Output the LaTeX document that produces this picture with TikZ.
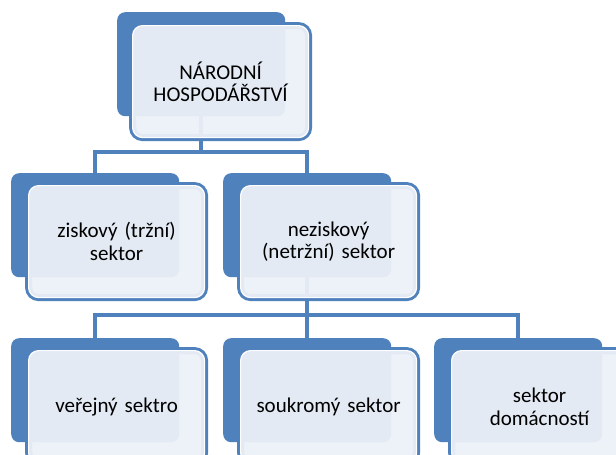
\documentclass[tikz,border=0pt]{standalone}
\usepackage{fontspec}
\setmainfont{Carlito}
\usetikzlibrary{backgrounds}

\definecolor{ramec}{RGB}{79,129,189}
\definecolor{vypln}{RGB}{236,240,248}

\begin{document}
\begin{tikzpicture}[
      x=1pt, y=-1pt,
      back/.style={anchor=north west, fill=ramec, rounded corners=8pt,
        minimum width=168pt, minimum height=104pt, inner sep=0pt},
      front/.style={anchor=north west, fill=vypln, fill opacity=0.95, text opacity=1,
        draw=white, line width=1.2pt, rounded corners=10pt,
        preaction={draw=ramec, line width=7pt},
        minimum width=176pt, minimum height=112pt, inner sep=0pt,
        align=center, text width=172pt,
        font=\fontsize{21}{22.5}\selectfont},
      spoj/.style={draw=ramec, line width=4pt}
    ]
    \useasboundingbox (0,0) rectangle (616,455);
    % Prvni uroven
    \node[back] (npz) at (117,12) {};
    \node[front] (np) at (132,25) {NÁRODNÍ\\HOSPODÁŘSTVÍ};
    % Druha uroven
    \node[back] (ziskz) at (11,173) {};
    \node[front] (zisk) at (28,185) {ziskový (tržní)\\sektor};
    \node[back] (neziskz) at (223,173) {};
    \node[front] (nezisk) at (240,185) {neziskový\\(netržní) sektor};
    % Treti uroven
    \node[back] (verz) at (11,338) {};
    \node[front] (ver) at (28,350) {veřejný sektro};
    \node[back] (soukz) at (223,338) {};
    \node[front] (souk) at (240,350) {soukromý sektor};
    \node[back] (domz) at (434,338) {};
    \node[front] (dom) at (451,350) {sektor\\domácností};
    \coordinate (sbernice1) at (0,152);
    \coordinate (sbernice2) at (0,315);
    % Spojnice
    \begin{scope}[on background layer]
      \draw[spoj] (npz.south) -- (npz.south |- sbernice1) -| (ziskz.north);
      \draw[spoj] (npz.south |- sbernice1) -| (neziskz.north);
      \draw[spoj] (neziskz.south) -- (neziskz.south |- sbernice2) -| (verz.north);
      \draw[spoj] (neziskz.south |- sbernice2) -| (domz.north);
      \draw[spoj] (neziskz.south |- sbernice2) -- (soukz.north);
    \end{scope}
  \end{tikzpicture}
\end{document}
